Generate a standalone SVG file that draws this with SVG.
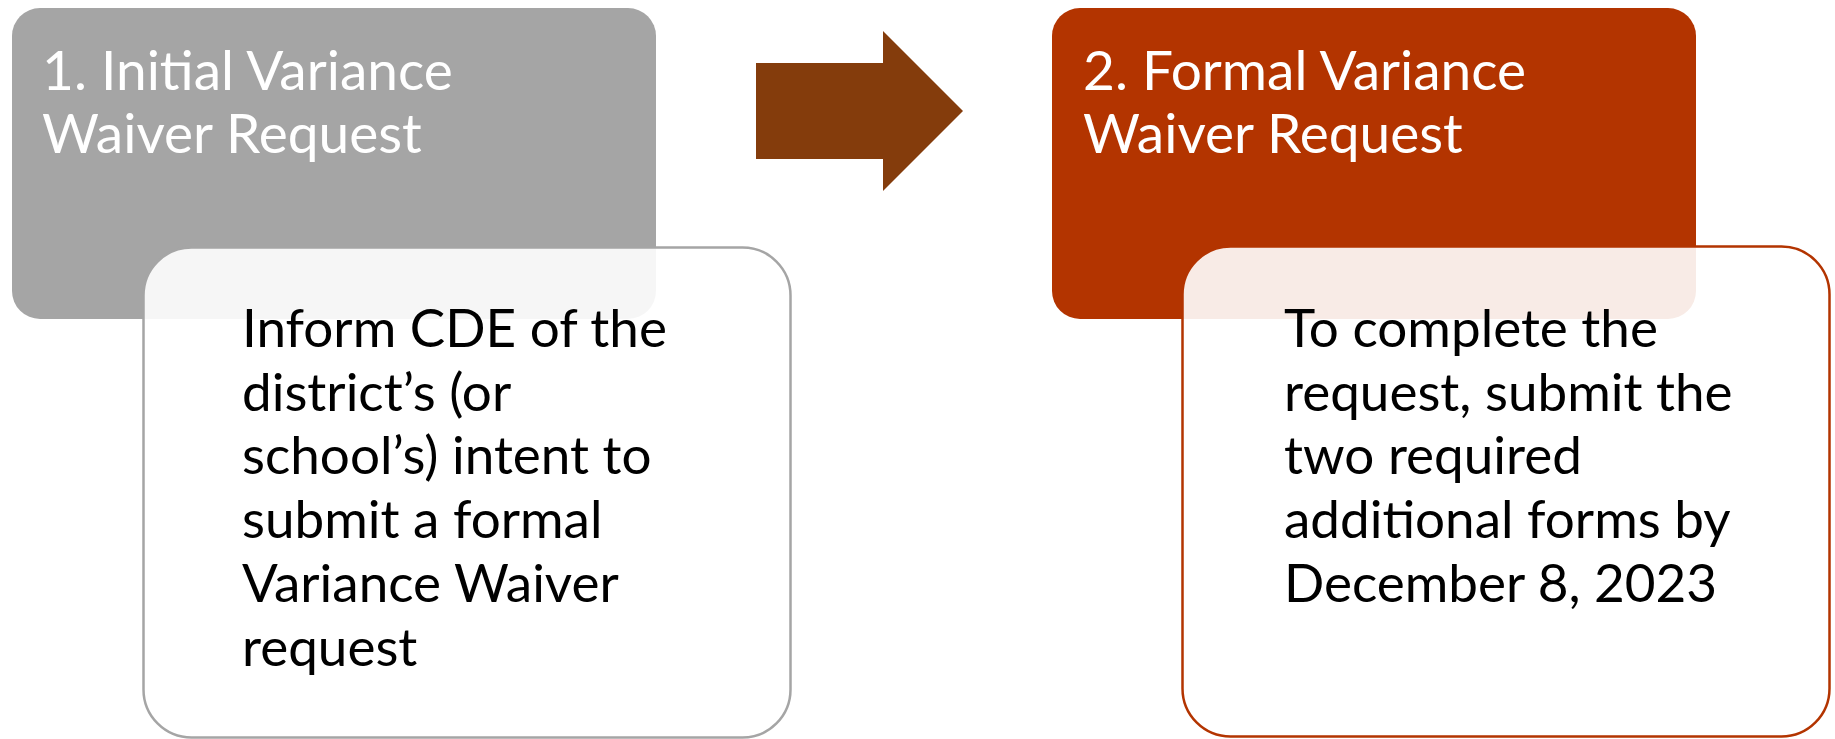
<svg xmlns="http://www.w3.org/2000/svg" width="1835" height="739" viewBox="0 0 1835 739">
<style>
.title{font-family:Lato,"Liberation Sans",sans-serif;font-size:55px;fill:#ffffff}
.body{font-family:Lato,"Liberation Sans",sans-serif;font-size:53px;fill:#000000}
</style>
<rect width="1835" height="739" fill="#ffffff"/>
<g id="node-initial">
<rect x="12" y="8" width="644" height="311" rx="28" fill="#a5a5a5"/>
<text class="title"><tspan x="42" y="90">1. Initial Variance</tspan><tspan x="42" y="153">Waiver Request</tspan></text>
</g>
<g id="node-inform">
<rect x="143.5" y="247.5" width="647" height="490" rx="48" fill="#ffffff" fill-opacity="0.9" stroke="#a5a5a5" stroke-width="2.5"/>
<text class="body"><tspan x="242" y="347">Inform CDE of the</tspan><tspan x="242" y="411">district’s (or</tspan><tspan x="242" y="474">school’s) intent to</tspan><tspan x="242" y="538">submit a formal</tspan><tspan x="242" y="602">Variance Waiver</tspan><tspan x="242" y="666">request</tspan></text>
</g>
<g id="connectors">
<polygon points="756,63 883,63 883,31 963,111 883,191 883,159 756,159" fill="#843c0c"/>
</g>
<g id="node-formal">
<rect x="1052" y="8" width="644" height="311" rx="28" fill="#b33400"/>
<text class="title"><tspan x="1083" y="90">2. Formal Variance</tspan><tspan x="1083" y="153">Waiver Request</tspan></text>
</g>
<g id="node-complete">
<rect x="1182.5" y="246.5" width="647" height="490" rx="48" fill="#ffffff" fill-opacity="0.9" stroke="#b33400" stroke-width="2.5"/>
<text class="body"><tspan x="1284" y="347">To complete the</tspan><tspan x="1284" y="411">request, submit the</tspan><tspan x="1284" y="474">two required</tspan><tspan x="1284" y="538">additional forms by</tspan><tspan x="1284" y="602">December 8, 2023</tspan></text>
</g>
</svg>
